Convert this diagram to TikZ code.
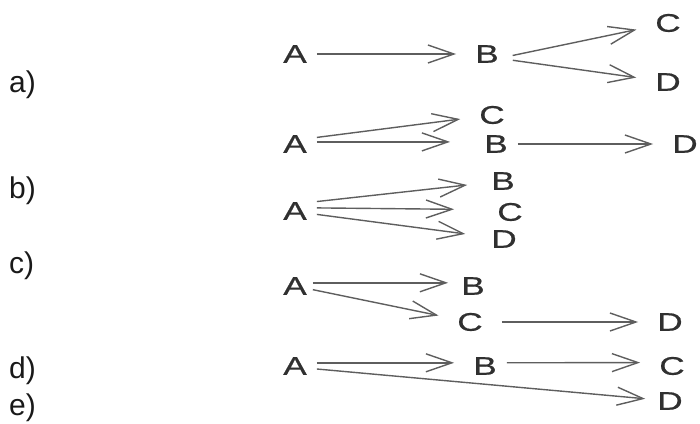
\documentclass[tikz,border=0pt]{standalone}
\usepackage{fontspec}
\setmainfont{Liberation Sans}
\newfontfamily\widesans[FakeStretch=1.38,FakeBold=0.6]{Liberation Sans}
\usepackage{tikz}
\usetikzlibrary{arrows.meta}

\definecolor{lettergray}{HTML}{303030}
\definecolor{linegray}{HTML}{5E5E5E}

\tikzset{
    letter/.style={
        font=\widesans\fontsize{25.5}{25.5}\selectfont,
        text=lettergray,
        inner sep=0pt
    },
    caselabel/.style={
        font=\fontsize{30}{30}\selectfont,
        text=black!90,
        anchor=west,
        inner sep=0pt
    },
    flow/.style={
        draw=linegray,
        line width=1.4pt,
        -{Straight Barb[length=26pt,width=18pt]},
        shorten <=10pt,
        shorten >=19pt
    }
}

\begin{document}
\begin{tikzpicture}[x=1pt, y=-1pt]

\useasboundingbox (0,0) rectangle (700,423);

% labels on the left
\node [caselabel] (label_a) at (9,85) {a)};
\node [caselabel] (label_b) at (9,191) {b)};
\node [caselabel] (label_c) at (9,266) {c)};
\node [caselabel] (label_d) at (9,371) {d)};
\node [caselabel] (label_e) at (9,408) {e)};

% row 1
\node [letter] (row1_A) at (295,54) {A};
\node [letter] (row1_B) at (487,54) {B};
\node [letter] (row1_C) at (668,23) {C};
\node [letter] (row1_D) at (668,82) {D};

\draw [flow] (row1_A) -- (row1_B);
\draw [flow, shorten <=14pt] (row1_B.-20) -- (row1_C);
\draw [flow, shorten <=14pt] (row1_B.-20) -- (row1_D);

% row 2
\node [letter] (row2_A) at (295,144) {A};
\node [letter] (row2_C) at (492,115) {C};
\node [letter] (row2_B) at (496,144) {B};
\node [letter] (row2_D) at (685,144) {D};

\draw [flow] (row2_A.24) -- (row2_C);
\draw [flow, shorten >=34pt] (row2_A.10) -- (row2_B.170);
\draw [flow] (row2_B) -- (row2_D);

% row 3
\node [letter] (row3_A) at (295,211) {A};
\node [letter] (row3_B) at (503,181) {B};
\node [letter] (row3_C) at (510,212) {C};
\node [letter] (row3_D) at (504,239) {D};

\draw [flow, shorten >=24pt] (row3_A.35) -- (row3_B);
\draw [flow, shorten >=43pt] (row3_A.15) -- (row3_C.170);
\draw [flow, shorten >=26pt] (row3_A.-10) -- (row3_D);

% row 4
\node [letter] (row4_A) at (295,286) {A};
\node [letter] (row4_B) at (473,286) {B};
\node [letter] (row4_C) at (470,322) {C};
\node [letter] (row4_D) at (670,322) {D};

\draw [flow, shorten <=6pt, shorten >=13pt] (row4_A.15) -- (row4_B.165);
\draw [flow, shorten <=6pt] (row4_A) -- (row4_C);
\draw [flow, shorten <=19pt] (row4_C) -- (row4_D);

% row 5
\node [letter] (row5_A) at (295,366) {A};
\node [letter] (row5_B) at (485,366) {B};
\node [letter] (row5_C) at (672,366) {C};
\node [letter] (row5_D) at (670,401) {D};

\draw [flow] (row5_A.15) -- (row5_B.165);
\draw [flow] (row5_B.15) -- (row5_C.165);
\draw [flow, shorten >=12pt] (row5_A.-10) -- (row5_D);

\end{tikzpicture}
\end{document}
